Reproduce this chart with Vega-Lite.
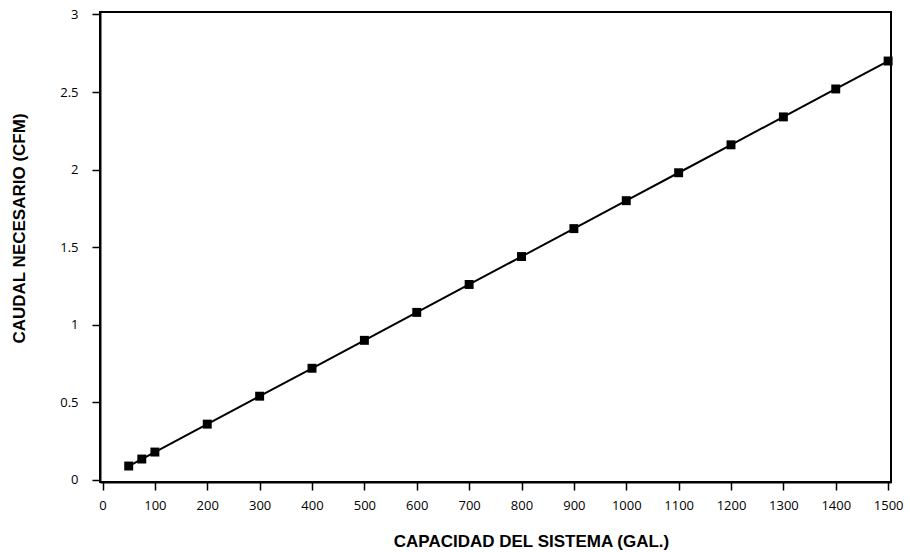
{
  "$schema": "https://vega.github.io/schema/vega-lite/v6.json",
  "width": 791,
  "height": 470,
  "autosize": {"type": "none"},
  "padding": {"left": 100, "top": 12, "right": 19, "bottom": 70},
  "background": "white",
  "config": {
    "view": {"stroke": "black", "strokeWidth": 2},
    "axis": {
      "labelFont": "Open Sans",
      "labelFontSize": 13,
      "labelColor": "black",
      "titleFont": "Liberation Sans",
      "titleFontSize": 17,
      "titleFontWeight": "bold",
      "titleColor": "black",
      "titleBaseline": "middle",
      "domainColor": "black",
      "domainWidth": 2,
      "tickColor": "black",
      "tickWidth": 1.5,
      "tickSize": 8,
      "grid": false
    }
  },
  "data": {
    "values": [
      {"gal": 50, "cfm": 0.09},
      {"gal": 75, "cfm": 0.135},
      {"gal": 100, "cfm": 0.18},
      {"gal": 200, "cfm": 0.36},
      {"gal": 300, "cfm": 0.54},
      {"gal": 400, "cfm": 0.72},
      {"gal": 500, "cfm": 0.9},
      {"gal": 600, "cfm": 1.08},
      {"gal": 700, "cfm": 1.26},
      {"gal": 800, "cfm": 1.44},
      {"gal": 900, "cfm": 1.62},
      {"gal": 1000, "cfm": 1.8},
      {"gal": 1100, "cfm": 1.98},
      {"gal": 1200, "cfm": 2.16},
      {"gal": 1300, "cfm": 2.34},
      {"gal": 1400, "cfm": 2.52},
      {"gal": 1500, "cfm": 2.7}
    ]
  },
  "encoding": {
    "x": {
      "field": "gal",
      "type": "quantitative",
      "scale": {"domain": [-4.8, 1505.5], "nice": false, "zero": false},
      "axis": {
        "values": [0, 100, 200, 300, 400, 500, 600, 700, 800, 900, 1000, 1100, 1200, 1300, 1400, 1500],
        "format": "d",
        "title": "CAPACIDAD DEL SISTEMA (GAL.)",
        "labelPadding": 9,
        "titleX": 431,
        "titleY": 59
      }
    },
    "y": {
      "field": "cfm",
      "type": "quantitative",
      "scale": {"domain": [-0.013, 3.016], "nice": false, "zero": false},
      "axis": {
        "values": [0, 0.5, 1, 1.5, 2, 2.5, 3],
        "format": "~g",
        "title": "CAUDAL NECESARIO (CFM)",
        "labelPadding": 14,
        "titleX": -81,
        "titleY": 216
      }
    }
  },
  "layer": [
    {"mark": {"type": "line", "color": "black", "strokeWidth": 2}},
    {"mark": {"type": "square", "color": "black", "opacity": 1, "filled": true, "size": 80}}
  ]
}
